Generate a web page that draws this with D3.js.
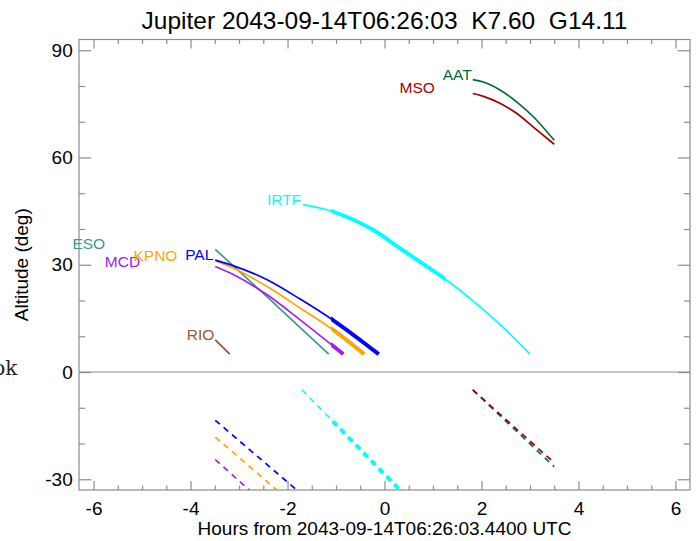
<!DOCTYPE html>
<html><head><meta charset="utf-8">
<script src="https://cdn.jsdelivr.net/npm/d3@7"></script>
<style>
body{margin:0;background:#fff}
text{font-family:"Liberation Sans",Arial,Helvetica,sans-serif}
</style>
</head><body><svg id="c" width="699" height="541"></svg>
<script>
// ---------- data ----------
const titleText = "Jupiter 2043-09-14T06:26:03  K7.60  G14.11";
const xTitle = "Hours from 2043-09-14T06:26:03.4400 UTC";
const yTitle = "Altitude (deg)";
const xMajor = [-6, -4, -2, 0, 2, 4, 6];
const xMinor = [-6, -5.5, -5, -4.5, -4, -3.5, -3, -2.5, -2, -1.5, -1, -0.5, 0, 0.5, 1, 1.5, 2, 2.5, 3, 3.5, 4, 4.5, 5, 5.5, 6];
const yMajor = [-30, 0, 30, 60, 90];
const yMinor = [-30, -20, -10, 0, 10, 20, 30, 40, 50, 60, 70, 80, 90];

const sites = ["AAT", "MSO", "IRTF", "ESO", "MCD", "KPNO", "PAL", "RIO"];
// above-horizon tracks (hours, altitude deg)
const aatHours  = [1.82, 2.04, 2.39, 2.73, 3.07, 3.50];
const aatAlt    = [81.8, 81.1, 78.8, 75.5, 71.4, 64.8];
const msoHours  = [1.82, 2.04, 2.39, 2.73, 3.07, 3.50];
const msoAlt    = [77.9, 77.1, 75.1, 72.3, 68.5, 63.7];
const irtfHours = [-1.68, -1.12, -0.71, -0.23, 0.32, 0.80, 1.25, 1.84, 2.39, 3.00];
const irtfAlt   = [46.8, 45.1, 43.0, 39.7, 34.6, 30.2, 26.0, 19.7, 13.2, 5.0];
const esoHours  = [-3.49, -2.42, -1.15];
const esoAlt    = [34.3, 21.0, 5.0];
const mcdHours  = [-3.49, -3.11, -2.42, -1.74, -0.85];
const mcdAlt    = [29.5, 27.2, 21.6, 14.6, 5.0];
const kpnoHours = [-3.49, -3.11, -2.42, -1.74, -1.05, -0.42];
const kpnoAlt   = [31.1, 29.0, 23.9, 17.9, 11.7, 5.0];
const palHours  = [-3.49, -3.11, -2.42, -1.74, -1.05, -0.12];
const palAlt    = [31.3, 29.7, 25.8, 20.4, 14.4, 5.0];
const rioHours  = [-3.49, -3.19];
const rioAlt    = [9.0, 5.0];

// below-horizon (dashed) tracks
const aatDashHours  = [1.82, 3.50];   const aatDashAlt  = [-5.0, -26.5];
const msoDashHours  = [1.82, 3.50];   const msoDashAlt  = [-5.0, -25.4];
const irtfDashHours = [-1.70, 0.32];  const irtfDashAlt = [-5.0, -33.0];
const mcdDashHours  = [-3.49, -2.79]; const mcdDashAlt  = [-24.5, -33.0];
const kpnoDashHours = [-3.49, -2.22]; const kpnoDashAlt = [-18.2, -33.0];
const palDashHours  = [-3.49, -1.81]; const palDashAlt  = [-13.5, -33.0];

// label anchor (right end, hours) — baseline is at track start altitude
const labelEndHours = [1.80, 1.04, -1.72, -5.76, -5.04, -4.27, -3.53, -3.51];

// highlighted (thick) time window, hours
const goodWindow = [-1.10, 1.25];

// ---------- styles ----------
const siteColors = ["#006b3c", "#a00000", "#00ffff", "#3a9a8c", "#a020f0", "#ffa500", "#0000ff", "#a0522d"];

// ---------- chart ----------
const W = 699, H = 541;
const M = {l: 79, r: 9, t: 39.5, b: 51};
const pw = W - M.l - M.r, ph = H - M.t - M.b;
const x = d3.scaleLinear().domain([-6.3, 6.3]).range([M.l, W - M.r]);
const y = d3.scaleLinear().domain([-33, 93]).range([H - M.b, M.t]);
const svg = d3.select("#c");
const axisCol = "#8c8c8c";

const defs = svg.append("defs");
defs.append("clipPath").attr("id", "plot").append("rect")
  .attr("x", M.l).attr("y", M.t).attr("width", pw).attr("height", ph);
defs.append("clipPath").attr("id", "good").append("rect")
  .attr("x", x(goodWindow[0])).attr("y", M.t)
  .attr("width", x(goodWindow[1]) - x(goodWindow[0])).attr("height", ph);

// zero line
svg.append("line").attr("x1", M.l).attr("x2", W - M.r)
  .attr("y1", y(0)).attr("y2", y(0)).attr("stroke", axisCol).attr("stroke-width", 1.2);

// axes
const xTickLen = 0.02 * ph, yTickLen = 0.02 * pw;
function styleAxis(g) {
  g.select(".domain").remove();
  g.selectAll(".tick line").attr("stroke", axisCol).attr("stroke-width", 1.2);
  g.selectAll("text").attr("fill", "#000").attr("font-size", 19)
    .style("font-family", '"Liberation Sans",Arial,sans-serif');
}
const xb = svg.append("g").attr("transform", `translate(0,${H - M.b})`)
  .call(d3.axisBottom(x).tickValues(xMajor).tickSize(-xTickLen).tickPadding(11.5).tickFormat(d => String(d)));
styleAxis(xb);
const xbm = svg.append("g").attr("transform", `translate(0,${H - M.b})`)
  .call(d3.axisBottom(x).tickValues(xMinor.filter(v => !xMajor.includes(v))).tickSize(-xTickLen / 2).tickFormat(""));
styleAxis(xbm);
const xt = svg.append("g").attr("transform", `translate(0,${M.t})`)
  .call(d3.axisTop(x).tickValues(xMajor).tickSize(-xTickLen).tickFormat(""));
styleAxis(xt);
const xtm = svg.append("g").attr("transform", `translate(0,${M.t})`)
  .call(d3.axisTop(x).tickValues(xMinor.filter(v => !xMajor.includes(v))).tickSize(-xTickLen / 2).tickFormat(""));
styleAxis(xtm);

const yl = svg.append("g").attr("transform", `translate(${M.l},0)`)
  .call(d3.axisLeft(y).tickValues(yMajor).tickSize(-yTickLen).tickPadding(6.3).tickFormat(d => String(d)));
styleAxis(yl);
const ylm = svg.append("g").attr("transform", `translate(${M.l},0)`)
  .call(d3.axisLeft(y).tickValues(yMinor.filter(v => !yMajor.includes(v))).tickSize(-yTickLen / 2).tickFormat(""));
styleAxis(ylm);
const yr = svg.append("g").attr("transform", `translate(${W - M.r},0)`)
  .call(d3.axisRight(y).tickValues(yMajor).tickSize(-yTickLen).tickFormat(""));
styleAxis(yr);
const yrm = svg.append("g").attr("transform", `translate(${W - M.r},0)`)
  .call(d3.axisRight(y).tickValues(yMinor.filter(v => !yMajor.includes(v))).tickSize(-yTickLen / 2).tickFormat(""));
styleAxis(yrm);

// frame
svg.append("rect").attr("x", M.l).attr("y", M.t).attr("width", pw).attr("height", ph)
  .attr("fill", "none").attr("stroke", axisCol).attr("stroke-width", 1.2);

// tracks
const tracks = [
  [aatHours, aatAlt], [msoHours, msoAlt], [irtfHours, irtfAlt], [esoHours, esoAlt],
  [mcdHours, mcdAlt], [kpnoHours, kpnoAlt], [palHours, palAlt], [rioHours, rioAlt]
];
const dashTracks = [
  [aatDashHours, aatDashAlt], [msoDashHours, msoDashAlt], [irtfDashHours, irtfDashAlt], null,
  [mcdDashHours, mcdDashAlt], [kpnoDashHours, kpnoDashAlt], [palDashHours, palDashAlt], null
];
const line = d3.line().x(d => x(d[0])).y(d => y(d[1])).curve(d3.curveMonotoneX);
const zip = (h, a) => h.map((v, i) => [v, a[i]]);

const plotG = svg.append("g").attr("clip-path", "url(#plot)");
sites.forEach((s, i) => {
  const pts = zip(tracks[i][0], tracks[i][1]);
  plotG.append("path").attr("d", line(pts)).attr("fill", "none")
    .attr("stroke", siteColors[i]).attr("stroke-width", 1.7);
  plotG.append("g").attr("clip-path", "url(#good)").append("path").attr("d", line(pts))
    .attr("fill", "none").attr("stroke", siteColors[i]).attr("stroke-width", 4);
  if (dashTracks[i]) {
    const dp = zip(dashTracks[i][0], dashTracks[i][1]);
    plotG.append("path").attr("d", line(dp)).attr("fill", "none")
      .attr("stroke", siteColors[i]).attr("stroke-width", 1.7).attr("stroke-dasharray", "6,5");
    plotG.append("g").attr("clip-path", "url(#good)").append("path").attr("d", line(dp))
      .attr("fill", "none").attr("stroke", siteColors[i]).attr("stroke-width", 4)
      .attr("stroke-dasharray", "6,5");
  }
  svg.append("text").attr("x", x(labelEndHours[i])).attr("y", y(tracks[i][1][0]))
    .attr("text-anchor", "end").attr("font-size", 15.5).attr("fill", siteColors[i]).text(s);
});

// titles
svg.append("text").attr("x", (M.l + W - M.r) / 2).attr("y", 29.3).attr("text-anchor", "middle")
  .attr("font-size", 24.5).attr("fill", "#000").style("white-space", "pre").text(titleText);
svg.append("text").attr("x", (M.l + W - M.r) / 2).attr("y", 535).attr("text-anchor", "middle")
  .attr("font-size", 19).attr("fill", "#000").text(xTitle);
svg.append("text").attr("transform", `translate(27.5,${M.t + ph / 2}) rotate(-90)`)
  .attr("text-anchor", "middle").attr("font-size", 19).attr("fill", "#000").text(yTitle);
svg.append("text").attr("x", 17.5).attr("y", 375).attr("text-anchor", "end")
  .attr("font-size", 20).attr("fill", "#222").style("font-family", '"DejaVu Serif",serif').text("ok");
</script></body></html>
